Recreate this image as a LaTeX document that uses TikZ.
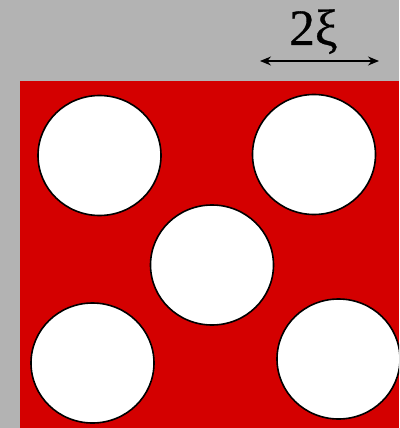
\documentclass[tikz,border=0pt]{standalone}
\usepackage{fontspec}
\setmainfont{Liberation Serif}
\newfontfamily\lblfont[FakeBold=0.6]{Liberation Serif}
\usetikzlibrary{arrows.meta,shapes.geometric}
\definecolor{bggray}{HTML}{B3B3B3}
\definecolor{plate}{HTML}{D40000}
\begin{document}
\begin{tikzpicture}[x=1pt,y=-1pt,
  hole/.style={ellipse,draw=black,fill=white,line width=1.6pt,inner sep=0pt,minimum width=123pt,minimum height=120pt}]
\fill[bggray] (0,0) rectangle (399,428);
\useasboundingbox (0,0) rectangle (399,428);
\fill[plate] (20,81) rectangle (399,428);
\begin{scope}
\clip (0,0) rectangle (399,428);
\node[hole] (h1) at (99.5,155.5) {};
\node[hole] (h2) at (314,154.5) {};
\node[hole] (h3) at (212,265) {};
\node[hole] (h4) at (92.5,363) {};
\node[hole] (h5) at (338.5,359) {};
\end{scope}
\node[font=\lblfont\fontsize{51}{57}\selectfont,inner sep=0pt,anchor=base] (lbl) at (313.5,45) {2ξ};
\coordinate (al) at (260,61);
\coordinate (ar) at (379,61);
\draw[line width=1.3pt,{Stealth[length=11pt,width=9pt]}-{Stealth[length=11pt,width=9pt]}] (al) -- (ar);
\end{tikzpicture}
\end{document}
